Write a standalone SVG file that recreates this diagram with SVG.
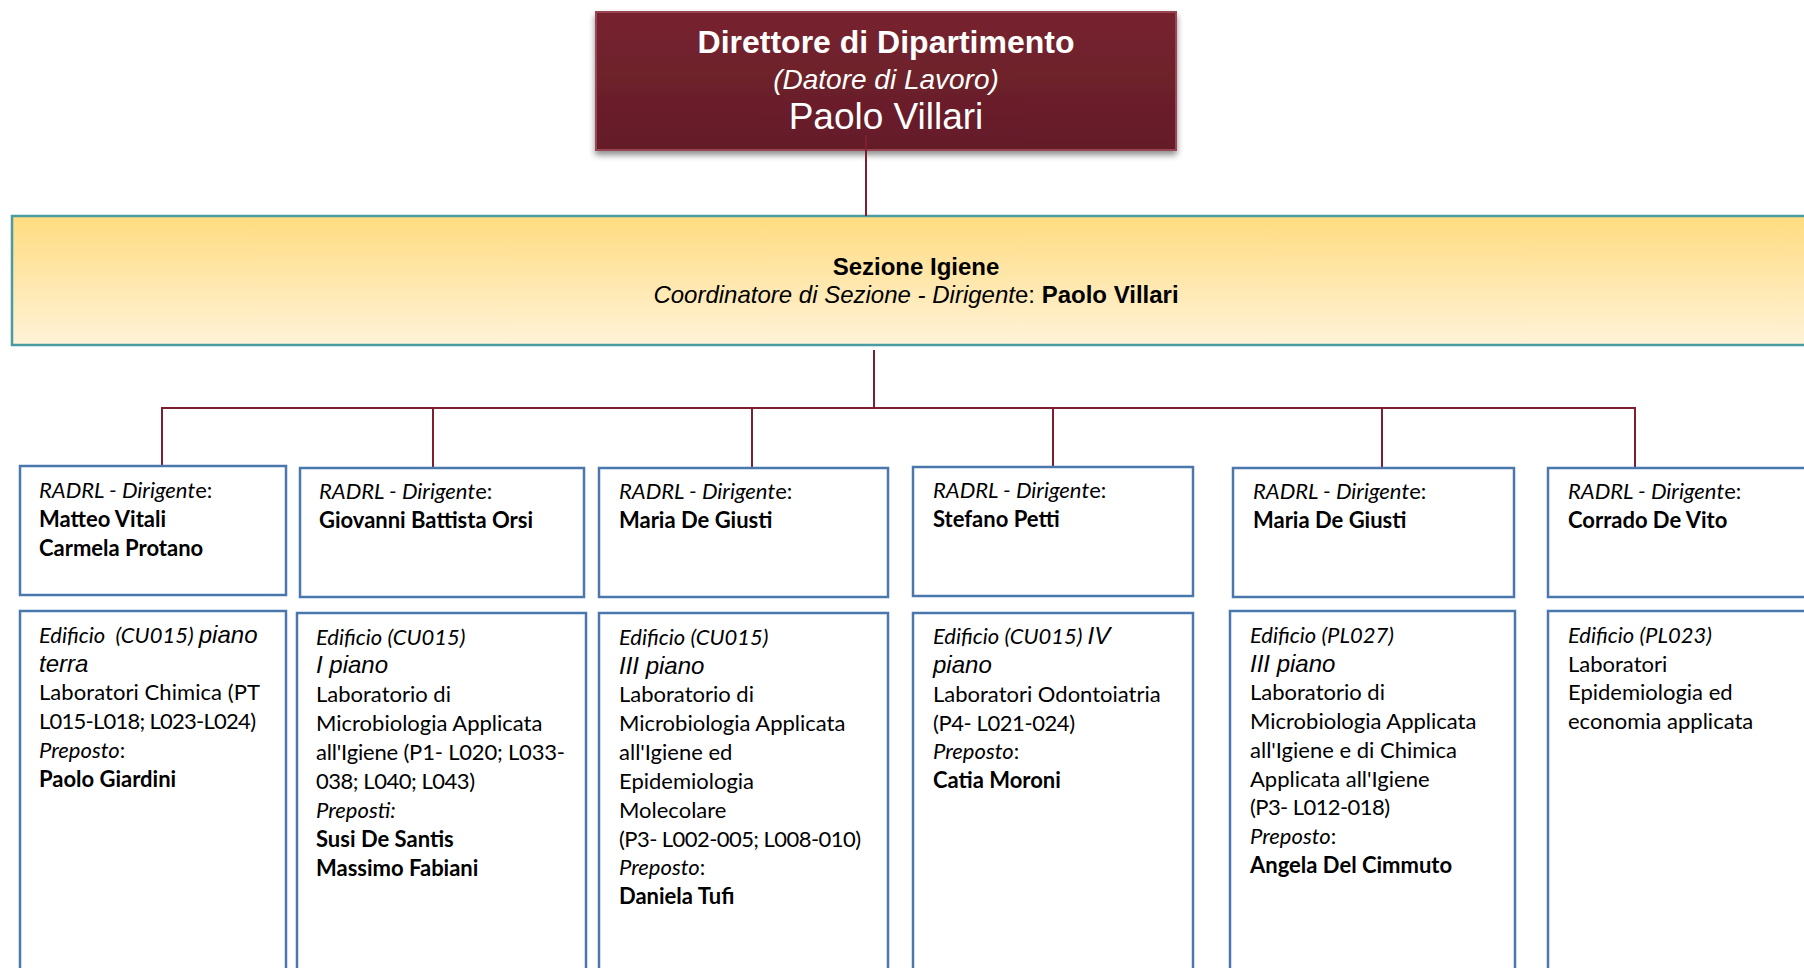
<svg xmlns="http://www.w3.org/2000/svg" width="1804" height="968" viewBox="0 0 1804 968">
<defs>
<linearGradient id="gTop" x1="0" y1="0" x2="0" y2="1">
<stop offset="0" stop-color="#76232f"/>
<stop offset="1" stop-color="#641d28"/>
</linearGradient>
<linearGradient id="gBand" x1="0" y1="0" x2="0" y2="1">
<stop offset="0" stop-color="#ffdc80"/>
<stop offset="1" stop-color="#fff2d8"/>
</linearGradient>
<filter id="sh" x="-5%" y="-10%" width="110%" height="130%">
<feDropShadow dx="0" dy="4" stdDeviation="3" flood-color="#000" flood-opacity="0.45"/>
</filter>
</defs>
<style>
.box{fill:#fff;stroke:#4a78ad;stroke-width:2.5}
.con{fill:none;stroke:#7e1e30;stroke-width:2}
.c{font-family:Lato,"Open Sans",sans-serif;font-size:22px;fill:#000}
.i{font-style:italic}
.b{font-weight:bold}
.a{font-family:"Liberation Sans",Arial,sans-serif;font-style:italic;font-size:24px}
.h{font-family:"Liberation Sans",Arial,sans-serif}
</style>
<rect width="1804" height="968" fill="#fff"/>

<g id="top">
<rect x="596" y="12" width="580" height="138" fill="url(#gTop)" stroke="#9a4452" stroke-width="2" filter="url(#sh)"/>
<text class="h" x="886" y="53" text-anchor="middle" font-size="32" font-weight="bold" fill="#fff">Direttore di Dipartimento</text>
<text class="h" x="886" y="89" text-anchor="middle" font-size="28" font-style="italic" fill="#fff">(Datore di Lavoro)</text>
<text class="h" x="886" y="129" text-anchor="middle" font-size="37" fill="#fff">Paolo Villari</text>
</g>

<g id="sezione">
<rect x="12" y="216" width="1830" height="129" fill="url(#gBand)" stroke="#4b9ba3" stroke-width="2.5"/>
<text class="h b" x="916" y="275" text-anchor="middle" font-size="24">Sezione Igiene</text>
<text class="h" x="916" y="303" text-anchor="middle" font-size="24"><tspan font-style="italic">Coordinatore di Sezione - Dirigent</tspan>e: <tspan font-weight="bold">Paolo Villari</tspan></text>
</g>

<g id="connectors">
<path class="con" d="M866 135V216"/>
<path class="con" d="M874 350V408"/>
<path class="con" d="M161 408H1636"/>
<path class="con" d="M162 408V468M433 408V470M752 408V470M1053 408V470M1382 408V470M1635 408V470"/>
</g>

<g id="r1">
<rect class="box" x="20" y="466" width="266" height="129"/>
<text class="c" x="39" y="498"><tspan class="i">RADRL - Dirigent</tspan>e:</text>
<text class="c b" x="39" y="527">Matteo Vitali</text>
<text class="c b" x="39" y="556">Carmela Protano</text>
</g>
<g id="r2">
<rect class="box" x="300" y="468" width="284" height="129"/>
<text class="c" x="319" y="499"><tspan class="i">RADRL - Dirigent</tspan>e:</text>
<text class="c b" x="319" y="528">Giovanni Battista Orsi</text>
</g>
<g id="r3">
<rect class="box" x="599" y="468" width="289" height="129"/>
<text class="c" x="619" y="499"><tspan class="i">RADRL - Dirigent</tspan>e:</text>
<text class="c b" x="619" y="528">Maria De Giusti</text>
</g>
<g id="r4">
<rect class="box" x="913" y="467" width="280" height="129"/>
<text class="c" x="933" y="498"><tspan class="i">RADRL - Dirigent</tspan>e:</text>
<text class="c b" x="933" y="527">Stefano Petti</text>
</g>
<g id="r5">
<rect class="box" x="1233" y="468" width="281" height="129"/>
<text class="c" x="1253" y="499"><tspan class="i">RADRL - Dirigent</tspan>e:</text>
<text class="c b" x="1253" y="528">Maria De Giusti</text>
</g>
<g id="r6">
<rect class="box" x="1548" y="468" width="290" height="129"/>
<text class="c" x="1568" y="499"><tspan class="i">RADRL - Dirigent</tspan>e:</text>
<text class="c b" x="1568" y="528">Corrado De Vito</text>
</g>

<g id="e1">
<rect class="box" x="20" y="611" width="266" height="380"/>
<text class="c" x="39" y="643"><tspan class="i">Edificio &#160;(CU015) </tspan><tspan class="a">piano</tspan></text>
<text class="a" x="39" y="672">terra</text>
<text class="c" x="39" y="700" textLength="221" lengthAdjust="spacing">Laboratori Chimica (PT</text>
<text class="c" x="39" y="729" textLength="217" lengthAdjust="spacing">L015-L018; L023-L024)</text>
<text class="c" x="39" y="758"><tspan class="i">Preposto</tspan>:</text>
<text class="c b" x="39" y="787">Paolo Giardini</text>
</g>
<g id="e2">
<rect class="box" x="297" y="613" width="289" height="380"/>
<text class="c i" x="316" y="645">Edificio (CU015)</text>
<text class="a" x="316" y="673">I piano</text>
<text class="c" x="316" y="702">Laboratorio di</text>
<text class="c" x="316" y="731">Microbiologia Applicata</text>
<text class="c" x="316" y="760" textLength="249" lengthAdjust="spacing">all'Igiene (P1- L020; L033-</text>
<text class="c" x="316" y="789" textLength="159" lengthAdjust="spacing">038; L040; L043)</text>
<text class="c i" x="316" y="818">Preposti:</text>
<text class="c b" x="316" y="847">Susi De Santis</text>
<text class="c b" x="316" y="876">Massimo Fabiani</text>
</g>
<g id="e3">
<rect class="box" x="599" y="613" width="289" height="380"/>
<text class="c i" x="619" y="645">Edificio (CU015)</text>
<text class="a" x="619" y="674">III piano</text>
<text class="c" x="619" y="702">Laboratorio di</text>
<text class="c" x="619" y="731">Microbiologia Applicata</text>
<text class="c" x="619" y="760">all'Igiene ed</text>
<text class="c" x="619" y="789">Epidemiologia</text>
<text class="c" x="619" y="818">Molecolare</text>
<text class="c" x="619" y="847" textLength="242" lengthAdjust="spacing">(P3- L002-005; L008-010)</text>
<text class="c" x="619" y="875"><tspan class="i">Preposto</tspan>:</text>
<text class="c b" x="619" y="904">Daniela Tufi</text>
</g>
<g id="e4">
<rect class="box" x="913" y="613" width="280" height="380"/>
<text class="c" x="933" y="644"><tspan class="i">Edificio (CU015) </tspan><tspan class="a">IV</tspan></text>
<text class="a" x="933" y="673">piano</text>
<text class="c" x="933" y="702">Laboratori Odontoiatria</text>
<text class="c" x="933" y="731" textLength="142" lengthAdjust="spacing">(P4- L021-024)</text>
<text class="c" x="933" y="759"><tspan class="i">Preposto</tspan>:</text>
<text class="c b" x="933" y="788">Catia Moroni</text>
</g>
<g id="e5">
<rect class="box" x="1230" y="611" width="285" height="380"/>
<text class="c i" x="1250" y="643">Edificio (PL027)</text>
<text class="a" x="1250" y="672">III piano</text>
<text class="c" x="1250" y="700">Laboratorio di</text>
<text class="c" x="1250" y="729">Microbiologia Applicata</text>
<text class="c" x="1250" y="758">all'Igiene e di Chimica</text>
<text class="c" x="1250" y="787">Applicata all'Igiene</text>
<text class="c" x="1250" y="815" textLength="140" lengthAdjust="spacing">(P3- L012-018)</text>
<text class="c" x="1250" y="844"><tspan class="i">Preposto</tspan>:</text>
<text class="c b" x="1250" y="873">Angela Del Cimmuto</text>
</g>
<g id="e6">
<rect class="box" x="1548" y="611" width="290" height="380"/>
<text class="c i" x="1568" y="643">Edificio (PL023)</text>
<text class="c" x="1568" y="672">Laboratori</text>
<text class="c" x="1568" y="700">Epidemiologia ed</text>
<text class="c" x="1568" y="729">economia applicata</text>
</g>
</svg>
